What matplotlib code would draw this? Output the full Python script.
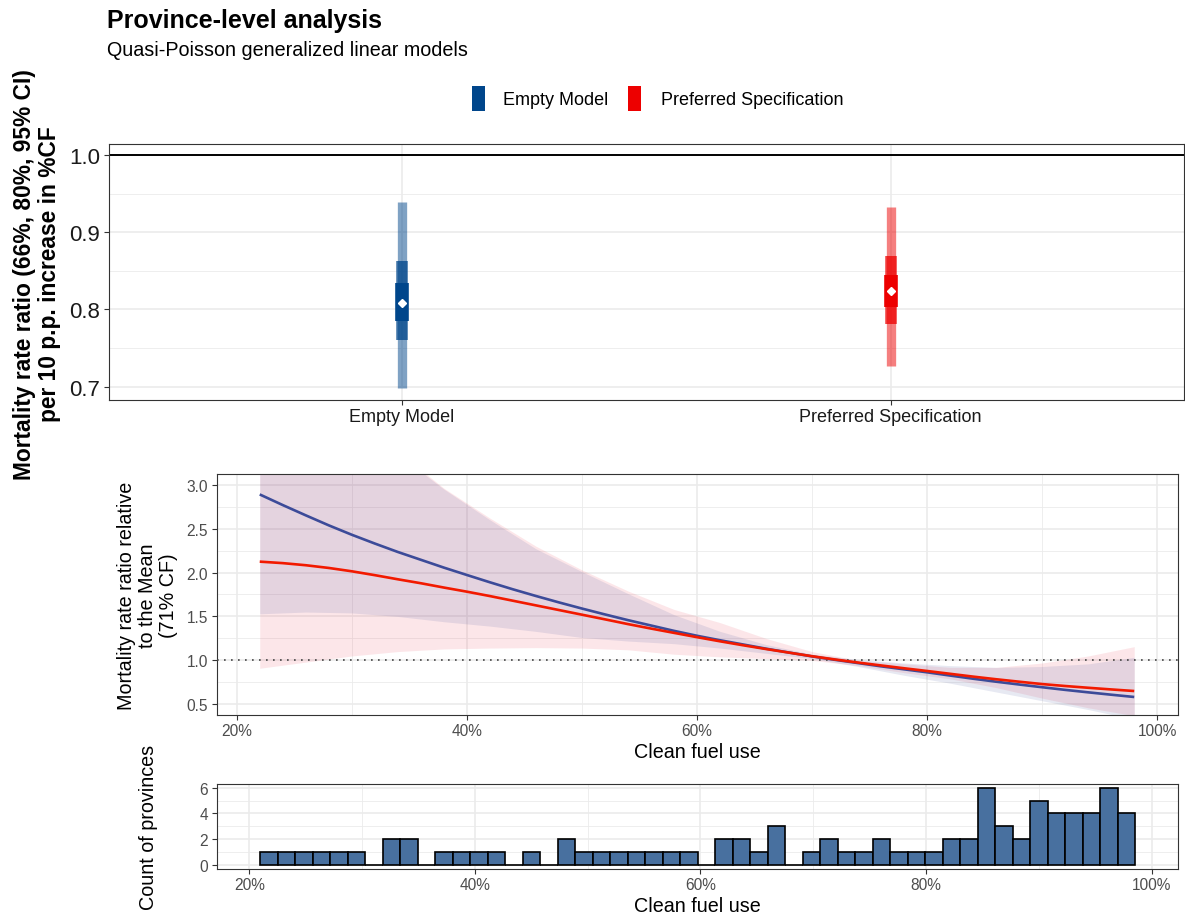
import numpy as np
import matplotlib
matplotlib.use("Agg")
import matplotlib.pyplot as plt
from matplotlib.patches import Rectangle
from matplotlib.ticker import FuncFormatter, FixedLocator

plt.rcParams['font.family'] = ['Liberation Sans', 'DejaVu Sans']

# ---- model estimates: rate ratio per 10 p.p. increase in clean fuel use ----
models = ["Empty Model", "Preferred Specification"]
model_colors = ["#00468B", "#ED0000"]
rr_point = [0.809, 0.8235]
ci66_lo = [0.7855, 0.8028]
ci66_hi = [0.8347, 0.8451]
ci80_lo = [0.7605, 0.7812]
ci80_hi = [0.8623, 0.8688]
ci95_lo = [0.6987, 0.7272]
ci95_hi = [0.9387, 0.9331]

# ---- dose-response curves relative to the mean (71% CF) ----
cf_line = [22, 24, 26, 28, 30, 32, 34, 36, 38, 40, 42, 44, 46, 48, 50, 52, 54, 56, 58, 60,
           62, 64, 66, 68, 70, 72, 74, 76, 78, 80, 82, 84, 86, 88, 90, 92, 94, 96, 98]
rr_empty = [2.889, 2.768, 2.651, 2.537, 2.430, 2.330, 2.234, 2.145, 2.056, 1.972,
            1.889, 1.809, 1.733, 1.660, 1.590, 1.523, 1.458, 1.397, 1.336, 1.280,
            1.229, 1.181, 1.133, 1.089, 1.045, 1.006, 0.969, 0.932, 0.898, 0.864,
            0.827, 0.791, 0.757, 0.725, 0.694, 0.664, 0.636, 0.609, 0.583]
rr_pref = [2.124, 2.107, 2.083, 2.052, 2.014, 1.970, 1.923, 1.878, 1.829, 1.782,
           1.732, 1.679, 1.626, 1.573, 1.520, 1.467, 1.413, 1.362, 1.313, 1.264,
           1.217, 1.172, 1.129, 1.088, 1.047, 1.010, 0.975, 0.942, 0.910, 0.879,
           0.847, 0.815, 0.785, 0.757, 0.730, 0.708, 0.688, 0.669, 0.651]

cf_band = [22, 26, 30, 34, 38, 42, 46, 50, 54, 58, 62, 66, 70, 74, 78, 82, 86, 90, 94, 98]
rr_empty_lo = [1.53, 1.55, 1.54, 1.50, 1.44, 1.39, 1.33, 1.26, 1.22, 1.19,
               1.14, 1.08, 1.02, 0.93, 0.83, 0.74, 0.64, 0.54, 0.44, 0.33]
rr_empty_hi = [5.50, 4.55, 3.85, 3.35, 2.95, 2.60, 2.27, 2.01, 1.76, 1.52,
               1.33, 1.18, 1.07, 1.01, 0.97, 0.94, 0.92, 0.93, 0.96, 1.035]
rr_pref_lo = [0.91, 0.98, 1.05, 1.10, 1.13, 1.14, 1.145, 1.14, 1.12, 1.07,
              1.04, 1.02, 1.00, 0.94, 0.86, 0.79, 0.69, 0.57, 0.46, 0.37]
rr_pref_hi = [4.95, 4.35, 3.85, 3.38, 2.96, 2.62, 2.30, 2.03, 1.79, 1.58,
              1.43, 1.25, 1.10, 1.00, 0.96, 0.92, 0.92, 0.97, 1.05, 1.156]
line_colors = ["#3C4B99", "#F21A00"]
ribbon_colors = ["#3C4B99", "#E8112D"]

# ---- distribution of provinces by clean fuel use (50 bins) ----
hist_start = 20.95
hist_width = 1.552
province_counts = [1, 1, 1, 1, 1, 1, 0, 2, 2, 0,
                   1, 1, 1, 1, 0, 1, 0, 2, 1, 1,
                   1, 1, 1, 1, 1, 0, 2, 2, 1, 3,
                   0, 1, 2, 1, 1, 2, 1, 1, 1, 2,
                   2, 6, 3, 2, 5, 4, 4, 4, 6, 4]

W, H = 1185, 920
fig = plt.figure(figsize=(W / 100, H / 100), dpi=100)


def box(left, top, right, bottom):
    return [left / W, 1 - bottom / H, (right - left) / W, (bottom - top) / H]


GRID = "#EBEBEB"


def style(ax, labelsize, labelcolor):
    for s in ax.spines.values():
        s.set_color("#333333")
        s.set_linewidth(0.8)
    ax.set_axisbelow(True)
    ax.tick_params(which="major", length=3.6, width=0.8, color="#333333",
                   labelcolor=labelcolor, labelsize=labelsize, pad=2.5)
    ax.tick_params(which="minor", length=0)
    ax.grid(which="major", color=GRID, lw=1.2)
    ax.grid(which="minor", color=GRID, lw=0.6)


pct = FuncFormatter(lambda v, _: f"{v:.0f}%")

# ---------------- top panel: interval estimates ----------------
ax1 = fig.add_axes(box(108.7, 144.7, 1184, 400.7))
style(ax1, 16, "#1A1A1A")
xpos = np.arange(len(models)) + 1
ax1.set_xlim(0.4, 2.6)
ax1.set_ylim(0.6832, 1.0146)
ax1.set_yticks([0.7, 0.8, 0.9, 1.0])
ax1.yaxis.set_minor_locator(FixedLocator([0.75, 0.85, 0.95]))
ax1.yaxis.set_major_formatter(FuncFormatter(lambda v, _: f"{v:.1f}"))
ax1.set_xticks(xpos)
ax1.set_xticklabels(models, fontsize=13, color="#1A1A1A")
ax1.axhline(1.0, color="black", lw=1.4, zorder=1)
for i, x in enumerate(xpos):
    c = model_colors[i]
    ax1.vlines(x, ci95_lo[i], ci95_hi[i], color=c, alpha=0.5, lw=6.7, capstyle="butt", zorder=3)
    ax1.vlines(x, ci80_lo[i], ci80_hi[i], color=c, alpha=0.75, lw=8.3, capstyle="butt", zorder=4)
    ax1.vlines(x, ci66_lo[i], ci66_hi[i], color=c, alpha=1.0, lw=9.8, capstyle="butt", zorder=5)
    ax1.plot([x], [rr_point[i]], marker="D", ms=4.2, color="white", mec="white", zorder=6)

# ---------------- middle panel: curves ----------------
ax2 = fig.add_axes(box(216.7, 474.7, 1178.3, 716))
style(ax2, 11.2, "#4D4D4D")
ax2.set_xlim(18.26, 101.83)
ax2.set_ylim(0.378, 3.125)
ax2.set_xticks([20, 40, 60, 80, 100])
ax2.xaxis.set_minor_locator(FixedLocator([30, 50, 70, 90]))
ax2.xaxis.set_major_formatter(pct)
ax2.set_yticks([0.5, 1.0, 1.5, 2.0, 2.5, 3.0])
ax2.yaxis.set_minor_locator(FixedLocator([0.75, 1.25, 1.75, 2.25, 2.75]))
ax2.yaxis.set_major_formatter(FuncFormatter(lambda v, _: f"{v:.1f}"))
ax2.fill_between(cf_band, rr_pref_lo, rr_pref_hi, color=ribbon_colors[1], alpha=0.10, lw=0, zorder=2)
ax2.fill_between(cf_band, rr_empty_lo, rr_empty_hi, color=ribbon_colors[0], alpha=0.12, lw=0, zorder=2)
ax2.axhline(1.0, color="#444444", lw=1.2, ls=(0, (1, 3.2)), zorder=3)
ax2.plot(cf_line, rr_empty, color=line_colors[0], lw=1.9, zorder=4, solid_capstyle="butt")
ax2.plot(cf_line, rr_pref, color=line_colors[1], lw=1.9, zorder=5, solid_capstyle="butt")

# ---------------- bottom panel: histogram ----------------
ax3 = fig.add_axes(box(216.7, 784.7, 1178.3, 870))
style(ax3, 11.2, "#4D4D4D")
ax3.set_xlim(17.11, 102.36)
ax3.set_ylim(-0.3, 6.3)
ax3.set_xticks([20, 40, 60, 80, 100])
ax3.xaxis.set_minor_locator(FixedLocator([30, 50, 70, 90]))
ax3.xaxis.set_major_formatter(pct)
ax3.set_yticks([0, 2, 4, 6])
ax3.yaxis.set_minor_locator(FixedLocator([1, 3, 5]))
bin_left = hist_start + hist_width * np.arange(len(province_counts))
ax3.bar(bin_left, province_counts, width=hist_width, align="edge",
        color="#48709F", edgecolor="black", linewidth=1.2, zorder=3)

# ---------------- titles and axis labels ----------------
fig.text(107 / W, 1 - 28 / H, "Province-level analysis", fontsize=18, fontweight="bold",
         ha="left", va="baseline")
fig.text(107 / W, 1 - 56 / H, "Quasi-Poisson generalized linear models", fontsize=14.2,
         ha="left", va="baseline")

fig.text(37 / W, 1 - 274.5 / H,
         "Mortality rate ratio (66%, 80%, 95% CI)\nper 10 p.p. increase in %CF",
         rotation=90, ha="center", va="center", multialignment="center",
         fontsize=16.4, fontweight="bold", linespacing=1.1)
fig.text(147.5 / W, 1 - 596 / H, "Mortality rate ratio relative\nto the Mean\n(71% CF)",
         rotation=90, ha="center", va="center", multialignment="center",
         fontsize=14.2, linespacing=1.1)
fig.text(697.5 / W, 1 - 753 / H, "Clean fuel use", ha="center", va="center", fontsize=14.2)
fig.text(148 / W, 1 - 827 / H, "Count of provinces", rotation=90, ha="center", va="center",
         fontsize=14.2)
fig.text(697.5 / W, 1 - 907 / H, "Clean fuel use", ha="center", va="center", fontsize=14.2)

# ---------------- legend ----------------
key_x = [472, 628]
text_x = [503, 661]
for i, name in enumerate(models):
    fig.add_artist(Rectangle((key_x[i] / W, 1 - 112 / H), 12.5 / W, 25 / H,
                             transform=fig.transFigure, color=model_colors[i], lw=0))
    fig.text(text_x[i] / W, 1 - 105 / H, name, fontsize=13, ha="left", va="baseline")

fig.savefig("out.png", dpi=100)
